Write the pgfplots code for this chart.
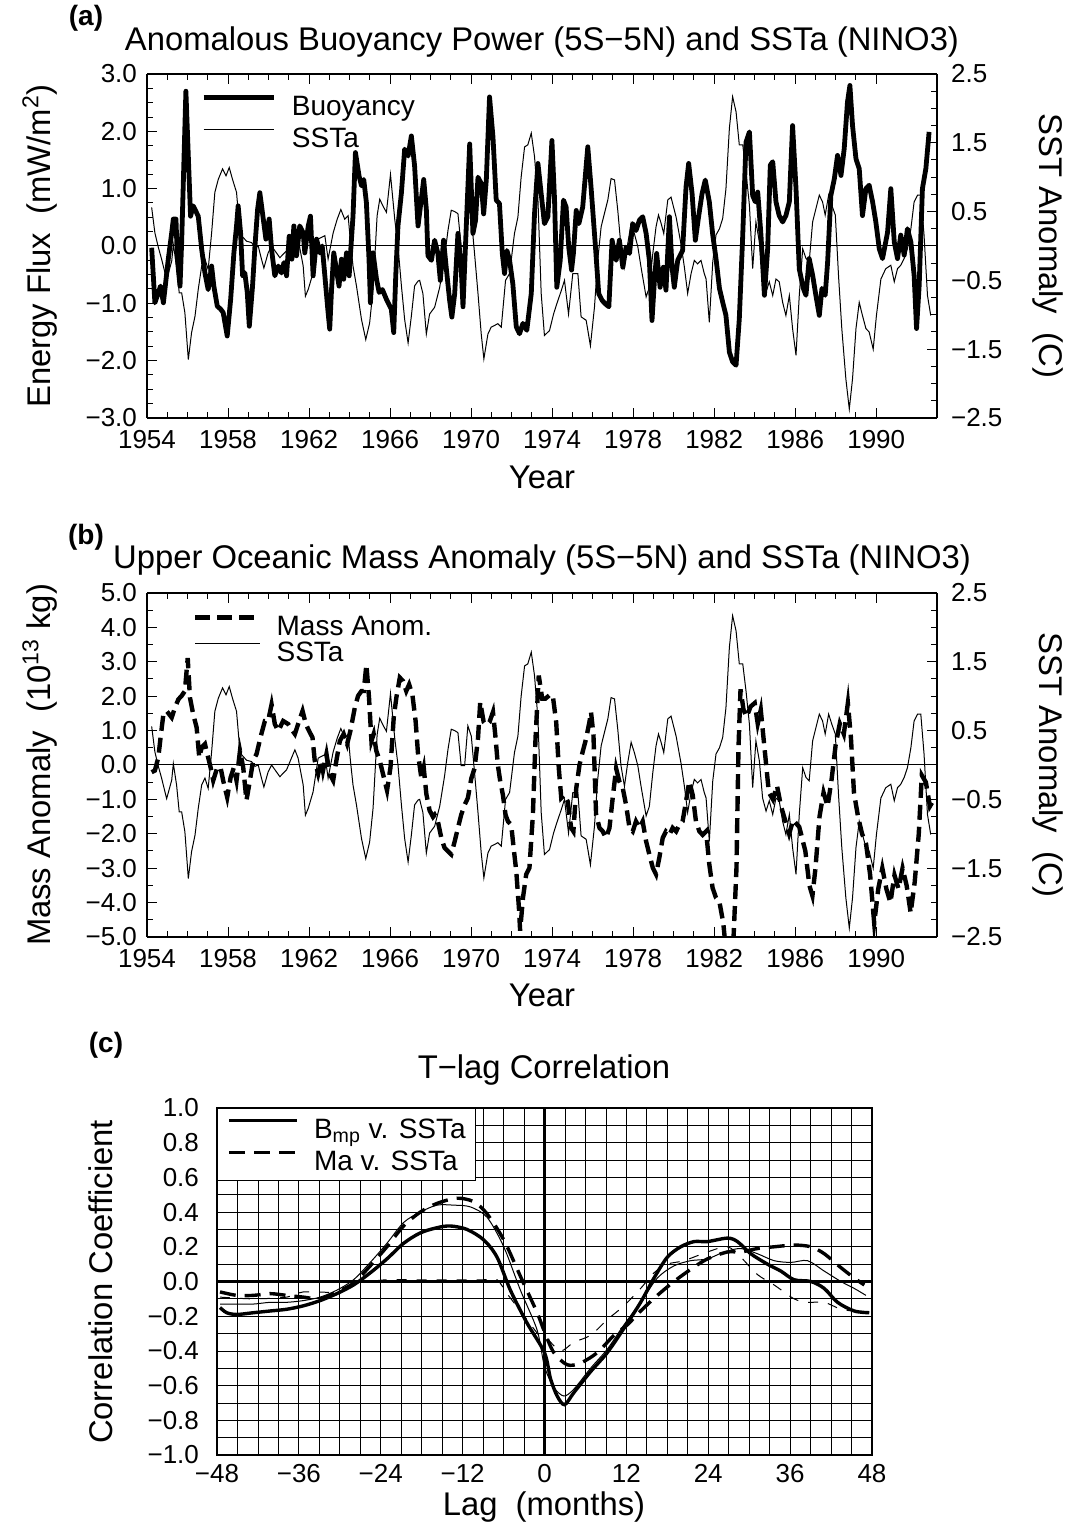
\documentclass[border=0pt]{standalone}
\usepackage{fontspec}
\setmainfont{Liberation Sans}
\usepackage{pgfplots}
\pgfplotsset{compat=1.18}
\usepackage{pgfplotstable}

% NINO3 SST anomaly (same series in panels a and b)
\pgfplotstableread{
year sst
1954.23 0.56
1954.39 0.19
1954.56 -0.02
1954.72 -0.19
1954.97 -0.49
1955.22 -0.22
1955.30 0.02
1955.46 -0.29
1955.59 -0.68
1955.71 -0.68
1955.87 -0.97
1956.04 -1.65
1956.20 -1.26
1956.37 -1.02
1956.53 -0.63
1956.70 -0.29
1956.86 -0.19
1957.02 -0.34
1957.19 0.19
1957.35 0.78
1957.52 0.97
1957.73 1.12
1957.90 1.02
1958.06 1.14
1958.22 0.97
1958.42 0.78
1958.59 0.19
1958.67 0.15
1958.91 0.07
1959.16 0.05
1959.33 -0.02
1959.49 0.00
1959.65 -0.19
1959.77 -0.32
1959.98 -0.10
1960.15 0.00
1960.39 -0.10
1960.56 -0.17
1960.72 -0.12
1960.89 -0.07
1961.13 0.10
1961.30 0.22
1961.46 0.10
1961.71 -0.29
1961.82 -0.73
1961.96 -0.63
1962.20 -0.39
1962.45 0.10
1962.78 0.15
1962.94 -0.19
1963.19 0.19
1963.39 0.39
1963.57 0.53
1963.76 0.39
1963.93 0.44
1964.04 0.07
1964.17 -0.29
1964.34 -0.58
1964.59 -1.07
1964.80 -1.36
1964.99 -1.12
1965.16 -0.63
1965.36 0.44
1965.49 0.68
1965.65 0.58
1965.82 0.49
1966.02 1.04
1966.23 0.39
1966.39 0.00
1966.56 -0.58
1966.72 -1.07
1966.89 -1.41
1967.05 -1.02
1967.21 -0.58
1967.38 -0.51
1967.46 -0.50
1967.62 -0.69
1967.79 -1.28
1967.95 -0.99
1968.20 -0.89
1968.45 -0.60
1968.69 -0.16
1968.86 0.23
1969.02 0.52
1969.19 0.50
1969.35 0.47
1969.51 -0.01
1969.68 -0.01
1969.84 0.57
1970.01 0.42
1970.17 -0.11
1970.34 -0.69
1970.50 -1.28
1970.63 -1.64
1970.83 -1.28
1970.99 -1.18
1971.32 -1.13
1971.49 -1.18
1971.70 -0.50
1971.90 -0.40
1972.14 0.18
1972.31 0.42
1972.47 1.00
1972.64 1.44
1972.80 1.47
1972.97 1.64
1973.13 1.30
1973.30 0.67
1973.46 -0.69
1973.62 -1.30
1973.87 -1.23
1974.07 -0.99
1974.23 -0.84
1974.45 -0.65
1974.61 -0.50
1974.81 -0.99
1975.02 -0.40
1975.27 -0.40
1975.43 -1.03
1975.68 -1.08
1975.89 -1.45
1976.09 -0.89
1976.25 -0.21
1976.42 0.28
1976.58 0.47
1976.75 0.67
1976.91 0.98
1977.08 0.96
1977.24 0.52
1977.40 -0.01
1977.57 -0.31
1977.73 0.03
1977.90 0.33
1978.06 0.18
1978.23 -0.01
1978.39 -0.31
1978.64 -0.74
1978.80 -0.60
1978.97 -0.11
1979.13 0.28
1979.25 0.45
1979.38 0.33
1979.51 0.18
1979.71 0.67
1979.87 0.71
1980.12 0.42
1980.36 0.03
1980.53 -0.31
1980.69 -0.69
1980.86 -0.40
1981.02 -0.21
1981.18 -0.26
1981.35 -0.21
1981.51 -0.40
1981.60 -0.48
1981.76 -1.11
1981.93 -0.23
1982.09 0.16
1982.26 0.25
1982.42 0.40
1982.58 0.83
1982.75 1.71
1982.91 2.17
1983.08 1.95
1983.24 1.47
1983.41 1.47
1983.57 1.08
1983.74 0.59
1983.90 -0.33
1984.06 0.35
1984.23 0.06
1984.39 -0.48
1984.56 -0.67
1984.72 -0.52
1984.89 -0.72
1985.05 -0.48
1985.21 -0.52
1985.38 -0.82
1985.54 -1.01
1985.71 -0.72
1985.87 -1.20
1986.04 -1.59
1986.20 -0.72
1986.37 -0.04
1986.53 -0.18
1986.69 -0.23
1986.86 0.35
1987.02 0.54
1987.19 0.74
1987.35 0.64
1987.48 0.45
1987.65 0.74
1987.81 0.59
1987.98 0.45
1988.14 -0.44
1988.30 -1.20
1988.50 -1.93
1988.67 -2.37
1988.83 -1.93
1989.00 -1.20
1989.16 -0.82
1989.32 -1.01
1989.49 -1.20
1989.65 -1.25
1989.85 -1.50
1990.01 -1.01
1990.23 -0.48
1990.47 -0.33
1990.72 -0.28
1990.89 -0.52
1991.05 -0.33
1991.21 -0.28
1991.38 -0.18
1991.54 -0.04
1991.71 0.25
1991.87 0.64
1992.04 0.74
1992.20 0.74
1992.36 0.16
1992.53 -0.72
1992.69 -1.01
}\sst

% anomalous buoyancy power (panel a)
\pgfplotstableread{
year b
1954.23 -0.03
1954.39 -0.99
1954.56 -0.81
1954.67 -0.70
1954.81 -0.99
1954.94 -0.58
1955.05 -0.23
1955.22 0.23
1955.30 0.47
1955.43 0.47
1955.50 -0.23
1955.63 -0.70
1955.71 0.06
1955.92 2.70
1956.15 0.52
1956.28 0.70
1956.53 0.52
1956.70 -0.06
1956.86 -0.47
1957.02 -0.76
1957.19 -0.35
1957.30 -0.70
1957.47 -1.05
1957.63 -1.10
1957.76 -1.16
1957.96 -1.57
1958.13 -0.93
1958.29 -0.12
1958.42 0.35
1958.50 0.70
1958.62 0.23
1958.72 -0.52
1958.83 -0.47
1958.95 -0.81
1959.05 -1.40
1959.21 -0.70
1959.33 0.00
1959.46 0.64
1959.57 0.93
1959.74 0.47
1959.87 0.12
1960.03 0.47
1960.15 -0.06
1960.31 -0.52
1960.48 -0.35
1960.64 -0.47
1960.76 -0.29
1960.89 -0.52
1961.02 0.17
1961.15 -0.23
1961.25 0.35
1961.38 -0.17
1961.54 0.35
1961.71 0.23
1961.79 -0.12
1961.96 0.35
1962.07 0.52
1962.20 -0.52
1962.37 0.12
1962.53 -0.12
1962.65 0.00
1962.78 -0.52
1962.94 -1.16
1963.02 -1.45
1963.11 -0.76
1963.22 -0.12
1963.35 -0.41
1963.48 -0.70
1963.60 -0.23
1963.71 -0.58
1963.85 -0.12
1963.98 -0.52
1964.06 -0.06
1964.17 0.52
1964.29 1.63
1964.47 1.22
1964.59 1.05
1964.70 1.16
1964.83 0.76
1964.96 -0.23
1965.03 -0.99
1965.16 -0.12
1965.33 -0.58
1965.46 -0.81
1965.62 -0.76
1965.82 -0.93
1966.06 -1.10
1966.18 -1.51
1966.28 -0.52
1966.39 0.35
1966.56 0.93
1966.72 1.69
1966.89 1.57
1967.05 1.92
1967.21 1.40
1967.38 0.35
1967.54 0.81
1967.66 1.16
1967.79 0.64
1967.87 -0.17
1968.04 -0.25
1968.20 0.10
1968.36 -0.13
1968.48 -0.60
1968.64 0.10
1968.77 -0.37
1968.94 -0.95
1969.05 -1.24
1969.19 -0.83
1969.35 0.22
1969.51 -0.37
1969.60 -1.06
1969.76 0.33
1969.93 1.78
1970.09 0.22
1970.22 0.45
1970.34 1.20
1970.50 1.09
1970.62 0.56
1970.75 1.15
1970.91 2.60
1971.08 1.90
1971.24 0.80
1971.40 0.74
1971.54 -0.13
1971.65 -0.48
1971.77 -0.08
1971.90 -0.25
1972.06 -0.66
1972.23 -1.41
1972.39 -1.53
1972.56 -1.35
1972.75 -1.47
1972.97 -0.83
1973.13 0.56
1973.30 1.44
1973.46 0.91
1973.62 0.39
1973.79 0.51
1973.99 1.84
1974.12 0.80
1974.23 -0.72
1974.40 -0.25
1974.56 0.80
1974.69 0.68
1974.82 -0.02
1974.96 -0.42
1975.05 -0.13
1975.19 0.62
1975.32 0.39
1975.51 0.68
1975.76 1.73
1975.92 1.03
1976.14 -0.02
1976.30 -0.83
1976.47 -0.95
1976.63 -1.01
1976.80 -1.06
1976.96 0.10
1977.16 -0.25
1977.32 0.10
1977.49 -0.37
1977.65 -0.02
1977.82 -0.13
1977.98 0.39
1978.14 0.27
1978.31 0.45
1978.47 0.51
1978.64 0.22
1978.80 -0.25
1978.93 -1.30
1979.05 -0.60
1979.16 -0.13
1979.33 -0.72
1979.49 -0.37
1979.62 -0.77
1979.79 0.51
1979.92 -0.37
1980.03 -0.72
1980.20 -0.25
1980.44 -0.08
1980.61 1.03
1980.74 1.44
1980.91 0.91
1981.07 0.10
1981.23 0.51
1981.40 0.91
1981.56 1.15
1981.76 0.77
1981.93 0.19
1982.09 -0.22
1982.26 -0.74
1982.42 -0.98
1982.58 -1.21
1982.75 -1.85
1982.91 -2.02
1983.08 -2.08
1983.24 -1.27
1983.41 0.19
1983.57 1.81
1983.74 1.99
1983.90 0.88
1984.03 0.77
1984.15 0.94
1984.31 0.19
1984.48 -0.86
1984.64 -0.05
1984.77 1.41
1984.89 1.47
1985.05 0.77
1985.21 0.53
1985.38 0.42
1985.54 0.53
1985.71 0.77
1985.87 2.10
1986.04 1.00
1986.20 -0.40
1986.40 -0.74
1986.53 -0.86
1986.69 -0.22
1986.86 -0.51
1987.02 -0.86
1987.19 -1.21
1987.32 -0.74
1987.48 -0.86
1987.60 -0.28
1987.76 0.88
1987.93 1.17
1988.09 1.58
1988.26 1.23
1988.42 1.70
1988.58 2.51
1988.70 2.80
1988.83 2.10
1989.00 1.52
1989.16 1.35
1989.32 0.53
1989.49 1.00
1989.65 1.06
1989.82 0.77
1989.98 0.42
1990.15 -0.05
1990.31 -0.22
1990.56 0.24
1990.72 1.00
1990.89 0.07
1991.05 -0.22
1991.21 0.19
1991.38 -0.16
1991.54 0.30
1991.71 0.07
1991.87 -0.51
1991.99 -1.44
1992.12 -0.69
1992.28 1.00
1992.45 1.35
1992.61 1.99
}\buoy

% upper oceanic mass anomaly (panel b)
\pgfplotstableread{
year m
1954.23 -0.21
1954.39 -0.16
1954.56 0.22
1954.67 0.80
1954.81 1.48
1954.97 1.57
1955.22 1.38
1955.38 1.67
1955.55 1.91
1955.71 2.01
1955.87 2.15
1956.01 3.11
1956.12 1.96
1956.28 1.48
1956.45 1.09
1956.58 0.22
1956.70 0.51
1956.86 0.61
1957.02 0.22
1957.14 -0.07
1957.27 -0.45
1957.47 -0.07
1957.63 -0.07
1957.76 -0.45
1957.96 -0.94
1958.13 -0.36
1958.29 -0.07
1958.42 -0.45
1958.59 0.41
1958.75 -0.07
1958.91 -1.03
1959.08 -0.45
1959.24 0.13
1959.41 0.32
1959.60 0.80
1959.82 1.28
1959.98 1.28
1960.15 1.76
1960.31 1.19
1960.48 0.99
1960.72 1.28
1960.97 1.19
1961.13 1.04
1961.30 0.90
1961.51 1.28
1961.68 1.57
1961.84 1.19
1962.00 0.99
1962.17 0.80
1962.28 0.13
1962.45 -0.26
1962.61 0.13
1962.69 -0.16
1962.86 0.32
1963.02 -0.26
1963.19 -0.45
1963.35 0.13
1963.52 0.70
1963.71 0.90
1963.88 0.61
1964.04 0.99
1964.26 1.67
1964.42 2.01
1964.59 2.15
1964.70 2.15
1964.83 2.92
1964.96 1.96
1965.08 0.70
1965.19 0.90
1965.32 0.41
1965.49 0.13
1965.65 -0.26
1965.85 -0.74
1966.02 -0.07
1966.18 1.38
1966.31 1.96
1966.48 2.54
1966.64 2.44
1966.80 2.15
1966.94 2.34
1967.10 2.05
1967.26 1.28
1967.38 0.32
1967.54 -0.36
1967.66 -0.07
1967.79 -0.84
1967.95 -1.32
1968.12 -1.51
1968.20 -1.45
1968.36 -1.64
1968.53 -2.12
1968.69 -2.41
1968.86 -2.51
1969.02 -2.60
1969.19 -2.22
1969.35 -1.83
1969.51 -1.45
1969.68 -1.16
1969.84 -0.96
1970.01 -0.39
1970.17 -0.10
1970.34 0.77
1970.45 1.83
1970.62 1.25
1970.75 1.16
1970.91 1.25
1971.08 1.54
1971.21 0.77
1971.32 0.00
1971.44 -0.48
1971.57 -0.87
1971.70 -1.45
1971.82 -1.64
1971.98 -1.74
1972.10 -2.41
1972.23 -3.09
1972.36 -4.15
1972.42 -4.82
1972.56 -3.86
1972.72 -3.18
1972.88 -2.99
1973.05 -1.45
1973.18 0.77
1973.34 2.60
1973.51 1.93
1973.67 1.93
1973.87 2.03
1974.03 2.03
1974.20 1.25
1974.33 -0.10
1974.45 -0.96
1974.61 -0.87
1974.77 -1.06
1974.94 -1.83
1975.05 -1.93
1975.19 -0.68
1975.35 0.00
1975.51 0.39
1975.68 0.77
1975.84 1.25
1975.92 1.54
1976.04 0.87
1976.17 -1.45
1976.34 -1.83
1976.50 -1.93
1976.66 -2.12
1976.83 -1.83
1976.99 -0.96
1977.16 -0.10
1977.32 -0.48
1977.49 -0.68
1977.65 -1.16
1977.82 -1.83
1977.98 -1.93
1978.14 -1.64
1978.31 -1.83
1978.47 -1.64
1978.64 -2.22
1978.80 -2.60
1978.97 -2.99
1979.13 -3.18
1979.29 -2.70
1979.46 -2.12
1979.62 -1.93
1979.79 -2.03
1979.95 -1.83
1980.12 -1.93
1980.28 -1.74
1980.44 -1.64
1980.61 -1.06
1980.77 -0.48
1980.94 -0.87
1981.10 -1.64
1981.27 -1.93
1981.43 -2.03
1981.60 -1.93
1981.76 -2.89
1981.92 -3.57
1982.09 -3.86
1982.25 -3.95
1982.45 -4.60
1982.65 -5.80
1982.90 -5.80
1983.10 -3.00
1983.20 0.50
1983.30 2.20
1983.45 1.60
1983.60 1.40
1983.80 1.70
1984.00 1.80
1984.15 1.20
1984.30 1.60
1984.50 0.40
1984.70 -0.80
1984.90 -1.00
1985.10 -0.60
1985.30 -1.20
1985.50 -1.60
1985.70 -2.00
1985.90 -1.60
1986.20 -1.80
1986.50 -2.50
1986.70 -3.50
1986.85 -3.80
1987.00 -3.00
1987.20 -1.50
1987.40 -0.80
1987.60 -1.20
1987.80 -0.40
1988.00 0.60
1988.20 1.20
1988.40 0.90
1988.60 1.80
1988.75 0.80
1988.90 -0.80
1989.10 -1.50
1989.30 -2.00
1989.50 -2.30
1989.70 -3.20
1989.90 -4.60
1990.10 -3.60
1990.30 -3.00
1990.50 -3.60
1990.70 -4.00
1990.90 -3.20
1991.10 -3.60
1991.30 -3.00
1991.50 -3.50
1991.70 -4.30
1991.90 -3.40
1992.10 -2.00
1992.25 -0.30
1992.45 -0.50
1992.65 -1.20
1992.85 -1.00
}\mass

% T-lag correlations (panel c)
\pgfplotstableread{
lag r
-47.56 -0.15
-46.58 -0.18
-45.11 -0.19
-42.67 -0.18
-40.22 -0.17
-37.78 -0.16
-35.33 -0.14
-32.88 -0.11
-30.44 -0.07
-27.99 -0.02
-25.54 0.05
-23.10 0.13
-20.65 0.22
-18.21 0.28
-15.76 0.31
-13.80 0.32
-11.36 0.30
-8.91 0.24
-6.95 0.14
-5.00 -0.05
-2.55 -0.24
0.00 -0.41
0.88 -0.56
1.86 -0.66
2.94 -0.71
4.31 -0.64
6.75 -0.52
9.20 -0.41
11.64 -0.27
14.09 -0.12
16.05 0.02
18.00 0.14
19.96 0.20
21.92 0.23
23.87 0.23
26.81 0.25
28.28 0.23
30.23 0.16
32.68 0.10
34.64 0.06
36.59 0.01
39.04 0.00
41.00 -0.04
42.95 -0.12
45.40 -0.17
47.60 -0.18
}\bmp

\pgfplotstableread{
lag r
-47.56 -0.06
-45.11 -0.08
-42.67 -0.08
-40.22 -0.07
-37.78 -0.08
-35.33 -0.09
-32.88 -0.10
-30.44 -0.06
-27.99 -0.01
-25.54 0.09
-23.10 0.20
-20.65 0.32
-18.21 0.40
-15.76 0.45
-12.82 0.48
-10.38 0.46
-8.42 0.39
-5.97 0.24
-3.53 0.03
-1.08 -0.18
0.00 -0.29
1.37 -0.41
3.33 -0.48
5.28 -0.47
7.73 -0.41
10.18 -0.31
12.13 -0.25
14.09 -0.17
16.54 -0.08
18.98 0.00
21.43 0.07
23.87 0.13
26.81 0.17
28.77 0.17
31.21 0.19
33.66 0.20
36.59 0.21
39.04 0.20
41.00 0.16
43.44 0.08
45.40 0.02
46.87 -0.02
}\ma

\pgfplotstableread{
lag r
-47.56 -0.13
-45.11 -0.13
-42.67 -0.13
-40.22 -0.12
-37.78 -0.12
-35.33 -0.11
-32.88 -0.09
-30.44 -0.05
-27.99 0.01
-25.54 0.11
-23.10 0.22
-20.65 0.34
-18.21 0.40
-15.76 0.44
-13.31 0.44
-10.87 0.43
-8.42 0.37
-5.97 0.20
-3.53 -0.05
-1.08 -0.28
0.00 -0.49
1.37 -0.61
2.84 -0.66
4.31 -0.62
6.75 -0.50
9.20 -0.39
11.64 -0.25
14.09 -0.12
16.54 0.02
18.98 0.09
21.43 0.12
23.87 0.13
26.32 0.17
28.77 0.19
31.21 0.16
33.66 0.12
36.11 0.11
38.55 0.12
41.00 0.06
43.44 0.00
45.40 -0.04
47.11 -0.08
}\thinsolid

\pgfplotstableread{
lag r
-47.56 -0.09
-42.67 -0.10
-37.78 -0.09
-35.33 -0.06
-30.44 -0.06
-27.99 -0.01
-25.54 0.00
-23.10 0.01
-18.21 0.01
-13.80 0.01
-8.91 0.01
-6.95 0.01
-5.49 -0.07
-3.53 -0.17
-0.59 -0.32
0.39 -0.33
2.35 -0.40
4.31 -0.35
6.75 -0.31
9.20 -0.22
11.64 -0.14
14.09 -0.04
16.05 0.05
18.00 0.10
20.45 0.12
23.87 0.17
26.81 0.20
28.77 0.14
31.21 0.04
33.66 -0.02
36.59 -0.10
38.55 -0.12
41.00 -0.12
43.44 -0.16
45.40 -0.17
}\thindash

\newcommand\tickfont{\fontsize{13}{15}\selectfont}
\newcommand\labfont{\fontsize{16.4}{19}\selectfont}
\newcommand\legfont{\fontsize{14}{16}\selectfont}

\pgfplotsset{
  timeaxis/.style={
    scale only axis, width=395pt, height=172pt,
    xmin=1954, xmax=1993,
    xtick={1954,1958,1962,1966,1970,1974,1978,1982,1986,1990},
    xticklabels={1954,1958,1962,1966,1970,1974,1978,1982,1986,1990},
    minor x tick num=3,
    tick align=inside, major tick length=5pt, minor tick length=3pt,
    every tick/.style={black, line width=0.5pt},
    axis line style={line width=0.7pt},
    ticklabel style={font=\tickfont},
    xticklabel style={yshift=-2.5pt},
    yticklabel style={xshift=-1.5pt},
  },
  rightaxis/.style={
    timeaxis, axis x line=none, axis y line*=right,
    ymin=-2.5, ymax=2.5,
    ytick={-2.5,-1.5,-0.5,0.5,1.5,2.5},
    yticklabels={−2.5,−1.5,−0.5,0.5,1.5,2.5},
    minor y tick num=3,
    yticklabel style={xshift=5pt},
  },
  zeroline/.style={
    extra y ticks={0}, extra y tick labels={},
    extra y tick style={grid=major, major grid style={black, line width=0.5pt}},
  },
}

\begin{document}
\begin{tikzpicture}
\path[use as bounding box] (0,0) rectangle (535.5pt,766pt);

% ---------- (a)
\begin{axis}[timeaxis, zeroline,
    at={(73.5pt,557pt)}, anchor=south west,
    axis y line*=left,
    ymin=-3, ymax=3,
    ytick={-3,-2,-1,0,1,2,3},
    yticklabels={−3.0,−2.0,−1.0,0.0,1.0,2.0,3.0},
    minor y tick num=3,
    legend style={at={(0.068,0.94)}, anchor=north west, draw=none, fill=none,
      font=\legfont, inner sep=0pt, row sep=6pt, column sep=8pt,
      nodes={inner sep=0pt, text height=10pt, text depth=0pt}},
    legend cell align=left,
    legend image code/.code={\draw[#1] (0pt,4pt) -- (35pt,4pt);},
  ]
\addplot[black, line width=2.4pt, line join=round] table[x=year, y=b] {\buoy};
\addlegendentry{Buoyancy}
\addlegendimage{black, line width=0.5pt}
\addlegendentry{SSTa}
\end{axis}
\begin{axis}[rightaxis, at={(73.5pt,557pt)}, anchor=south west]
\addplot[black, line width=0.5pt] table[x=year, y=sst] {\sst};
\end{axis}

% ---------- (b)
\begin{axis}[timeaxis, zeroline,
    at={(73.5pt,297.5pt)}, anchor=south west,
    axis y line*=left,
    ymin=-5, ymax=5,
    ytick={-5,-4,-3,-2,-1,0,1,2,3,4,5},
    yticklabels={−5.0,−4.0,−3.0,−2.0,−1.0,0.0,1.0,2.0,3.0,4.0,5.0},
    minor y tick num=1,
    legend style={at={(0.058,0.936)}, anchor=north west, draw=none, fill=none,
      font=\legfont, inner sep=0pt, row sep=3pt, column sep=7pt,
      nodes={inner sep=0pt, text height=10pt, text depth=0pt}},
    legend cell align=left,
    legend image code/.code={\draw[#1] (0pt,4pt) -- (32.5pt,4pt);},
  ]
\addplot[black, line width=2.2pt, dash pattern=on 7.5pt off 3.5pt] table[x=year, y=m] {\mass};
\addlegendentry{Mass Anom.}
\addlegendimage{black, line width=0.5pt}
\addlegendentry{SSTa}
\end{axis}
\begin{axis}[rightaxis, at={(73.5pt,297.5pt)}, anchor=south west]
\addplot[black, line width=0.5pt] table[x=year, y=sst] {\sst};
\end{axis}

% ---------- (c)
\begin{axis}[
    scale only axis, width=327.5pt, height=173.5pt,
    at={(108.5pt,38.5pt)}, anchor=south west,
    xmin=-48, xmax=48, ymin=-1, ymax=1,
    xtick={-48,-36,-24,-12,0,12,24,36,48},
    xticklabels={−48,−36,−24,−12,0,12,24,36,48},
    minor x tick num=3,
    ytick={-1,-0.8,-0.6,-0.4,-0.2,0,0.2,0.4,0.6,0.8,1},
    yticklabels={−1.0,−0.8,−0.6,−0.4,−0.2,0.0,0.2,0.4,0.6,0.8,1.0},
    minor y tick num=1,
    grid=both, grid style={black, line width=0.4pt},
    major tick length=0pt, minor tick length=0pt,
    axis line style={line width=0.7pt},
    ticklabel style={font=\tickfont},
    yticklabel style={xshift=-5.5pt},
    xticklabel style={yshift=-1pt},
    extra x ticks={0}, extra x tick labels={},
    extra x tick style={grid=major, major grid style={black, line width=1.6pt}},
    extra y ticks={0}, extra y tick labels={},
    extra y tick style={grid=major, major grid style={black, line width=1.6pt}},
    legend style={at={(0,1)}, anchor=north west, draw=black, line width=0.6pt,
      fill=white, font=\legfont, inner sep=5pt, row sep=6pt, column sep=7.5pt,
      nodes={inner sep=0pt, text height=10pt, text depth=0pt}},
    legend cell align=left,
    legend image code/.code={\draw[#1] (0pt,4pt) -- (34pt,4pt);},
  ]
\addplot[black, line width=1.7pt, smooth] table[x=lag, y=r] {\bmp};
\addlegendentry{B\textsubscript{mp} v. SSTa}
\addplot[black, line width=1.7pt, smooth, dash pattern=on 8pt off 4.5pt] table[x=lag, y=r] {\ma};
\addlegendentry{Ma v. SSTa}
\addplot[black, line width=0.5pt, smooth, forget plot] table[x=lag, y=r] {\thinsolid};
\addplot[black, line width=0.5pt, smooth, dash pattern=on 5pt off 5pt, forget plot] table[x=lag, y=r] {\thindash};
\end{axis}

% ---------- titles and axis labels
\node[font=\fontsize{14}{16}\selectfont\bfseries] at (43pt,757pt) {(a)};
\node[font=\labfont] at (271pt,745pt) {Anomalous Buoyancy Power (5S−5N) and SSTa (NINO3)};
\node[font=\labfont] at (271pt,527.5pt) {Year};
\node[font=\labfont, rotate=90] at (20pt,643pt) {Energy Flux\ \ (mW/m\textsuperscript{2})};
\node[font=\labfont, rotate=-90] at (524pt,643pt) {SST Anomaly\ \ (C)};

\node[font=\fontsize{14}{16}\selectfont\bfseries] at (43pt,497.5pt) {(b)};
\node[font=\labfont] at (271pt,486pt) {Upper Oceanic Mass Anomaly (5S−5N) and SSTa (NINO3)};
\node[font=\labfont] at (271pt,268.5pt) {Year};
\node[font=\labfont, rotate=90] at (20pt,383.5pt) {Mass Anomaly\ \ (10\textsuperscript{13} kg)};
\node[font=\labfont, rotate=-90] at (524pt,383.5pt) {SST Anomaly\ \ (C)};

\node[font=\fontsize{14}{16}\selectfont\bfseries] at (53pt,243.5pt) {(c)};
\node[font=\labfont] at (272pt,231pt) {T−lag Correlation};
\node[font=\labfont] at (272pt,12.5pt) {Lag\ \ (months)};
\node[font=\labfont, rotate=90] at (50.5pt,125pt) {Correlation Coefficient};
\end{tikzpicture}
\end{document}
